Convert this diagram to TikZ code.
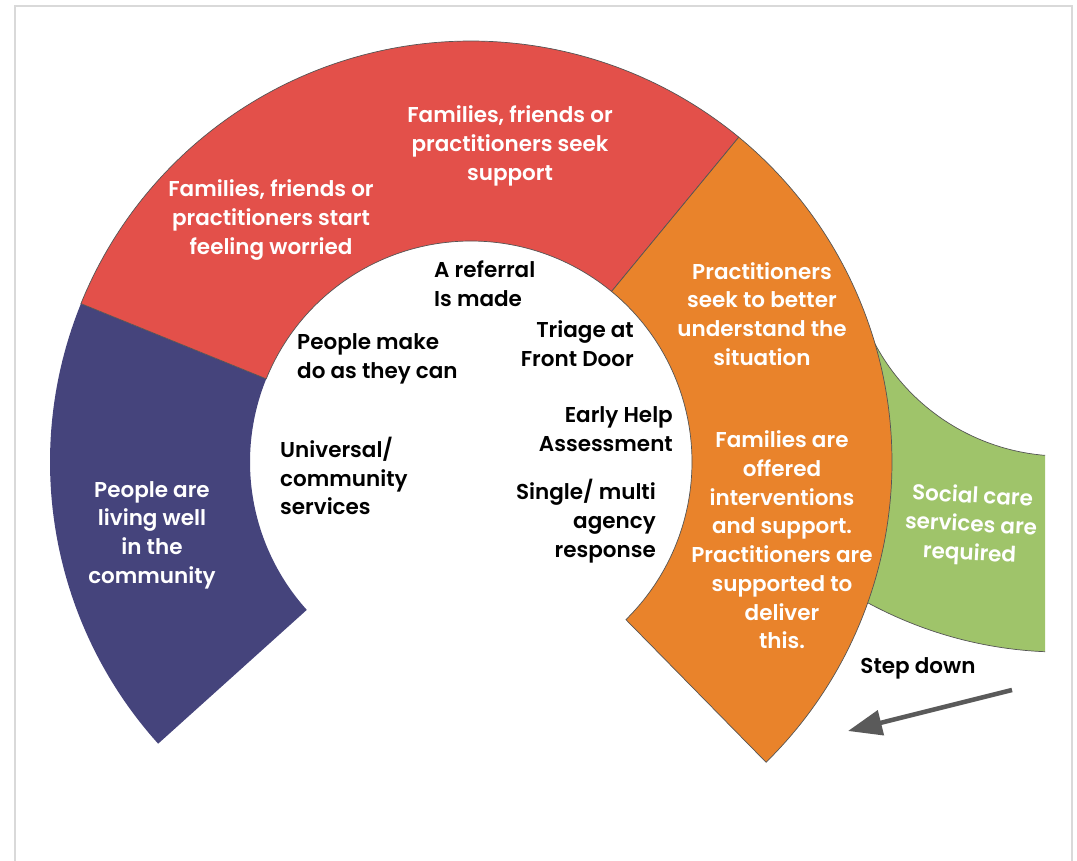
\documentclass[tikz,border=0pt]{standalone}
\usepackage{fontspec}
\setmainfont{Poppins}[BoldFont={Poppins SemiBold}]
\usetikzlibrary{arrows.meta}

\definecolor{ringblue}{HTML}{45447C}
\definecolor{ringred}{HTML}{E3504A}
\definecolor{ringorange}{HTML}{E9832B}
\definecolor{ringgreen}{HTML}{9FC46A}
\definecolor{edgegray}{HTML}{555555}
\definecolor{framegray}{HTML}{D9D9D9}
\definecolor{arrowgray}{HTML}{5A5A5A}

\tikzset{
  band/.style={draw=edgegray, line width=0.7pt},
  lighttext/.style={text=white, font=\fontsize{21.5}{28.7}\selectfont\bfseries, inner sep=0pt},
  darktext/.style={text=black, font=\fontsize{21.5}{28.7}\selectfont\bfseries, inner sep=0pt},
}

\begin{document}
\begin{tikzpicture}[x=1pt, y=1pt]
  \useasboundingbox (0,0) rectangle (1077,-861);

  % open frame around the page
  \draw[framegray, line width=1.8pt] (15,-861) -- (15,-6) -- (1072,-6) -- (1072,-861);

  % social care band, cut off at the right margin
  \begin{scope}
    \clip (0,0) rectangle (1045,-861);
    \filldraw[band, fill=ringgreen, shift={(1062,-244)}]
      (201:212) arc[start angle=201, end angle=285, radius=212]
      -- (285:408) arc[start angle=285, end angle=201, radius=408] -- cycle;
  \end{scope}

  % the main ring, centred at (471,-462)
  \begin{scope}[shift={(471,-462)}]
    \fill[white] (0,0) circle[radius=221];
    \fill[ringblue]
      (157.9:421) arc[start angle=157.9, end angle=222, radius=421]
      -- (222:221) arc[start angle=222, end angle=157.9, radius=221] -- cycle;
    \filldraw[band, fill=ringred]
      (50.5:421) arc[start angle=50.5, end angle=157.9, radius=421]
      -- (157.9:221) arc[start angle=157.9, end angle=50.5, radius=221] -- cycle;
    \filldraw[band, fill=ringorange]
      (-45.5:421) arc[start angle=-45.5, end angle=50.5, radius=421]
      -- (50.5:221) arc[start angle=50.5, end angle=-45.5, radius=221] -- cycle;
  \end{scope}

  % labels on the coloured bands
  \node[lighttext, align=center] (seek) at (510,-146)
    {Families, friends or\\practitioners seek\\support};
  \node[lighttext, align=center] (worried) at (271,-220)
    {Families, friends or\\practitioners start\\feeling worried};
  \node[lighttext, align=center] (living) at (152,-535)
    {People are\\living well\\in the\\community};
  \node[lighttext, align=center] (understand) at (762,-314)
    {Practitioners\\seek to better\\understand the\\situation};
  \node[lighttext, align=center] (offered) at (782,-540)
    {Families are\\offered\\interventions\\and support.\\Practitioners are\\supported to\\deliver\\this.};
  \node[lighttext, align=center, rotate=-3] (social) at (971,-526)
    {Social care\\services are\\required};

  % labels inside the ring
  \node[darktext, align=left, anchor=west] (referral) at (434,-284)
    {A referral\\Is made};
  \node[darktext, align=left, anchor=west] (makedo) at (297,-359)
    {People make\\do as they can};
  \node[darktext, align=right, anchor=east] (triage) at (634,-344)
    {Triage at\\Front Door};
  \node[darktext, align=right, anchor=east] (earlyhelp) at (673,-429)
    {Early Help\\Assessment};
  \node[darktext, align=left, anchor=west] (universal) at (280,-476)
    {Universal/\\community\\services};
  \node[darktext, align=right, anchor=east] (single) at (656,-521)
    {Single/ multi\\agency\\response};

  % step down arrow
  \node[darktext] (stepdown) at (918,-668) {Step down};
  \coordinate (arrowtail) at (1012,-690);
  \coordinate (arrowtip) at (848,-731);
  \draw[arrowgray, line width=4.5pt, -{Triangle[length=34pt, width=25pt]}]
    (arrowtail) -- (arrowtip);
\end{tikzpicture}
\end{document}
